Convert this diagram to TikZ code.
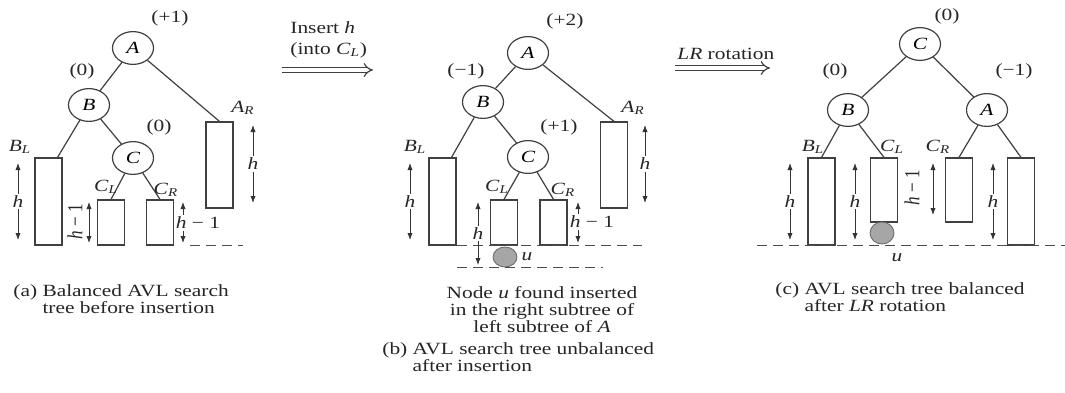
\documentclass[tikz,border=0pt]{standalone}
\usepackage{fontspec}
\setmainfont{Liberation Serif}
\usetikzlibrary{arrows.meta}
\usetikzlibrary{shapes.geometric}
\newcommand{\tsub}[2]{\textit{#1}\textsubscript{\textit{#2}}}

\begin{document}
\begin{tikzpicture}[x=0.5pt, y=-0.5pt,
  txt/.style={font=\fontsize{10.7}{10.6}\selectfont, text=black!85, yscale=0.8, inner sep=0pt},
  hl/.style={txt, fill=white, inner sep=1pt},
  vert/.style={ellipse, draw=black!75, line width=0.6pt, minimum width=20.5pt, minimum height=20.5pt,
    yscale=0.8, inner sep=0pt, font=\fontsize{10.7}{10.6}\selectfont\itshape},
  sub/.style={draw=black!75, line width=0.6pt, minimum width=13.5pt, inner sep=0pt},
  unode/.style={ellipse, draw=black!60, fill=black!35, minimum width=12pt, minimum height=10pt, inner sep=0pt},
  edge/.style={draw=black!75, line width=0.6pt},
  dim/.style={{Latex[length=3.5pt,width=2.6pt]}-{Latex[length=3.5pt,width=2.6pt]}, draw=black!80, line width=0.4pt},
  base/.style={dashed, dash pattern=on 5pt off 3pt, draw=black!70, line width=0.5pt},
  trans/.style={draw=black!75, line width=0.6pt, double=white, double distance=1.8pt, -{Implies}}]
  \path[use as bounding box, fill=white] (0,0) rectangle (1065,392);

  % (a) before insertion
  \node[vert] (Aa) at (133,48) {A};
  \node[vert] (Ba) at (89,105) {B};
  \node[vert] (Ca) at (133,158) {C};
  \node[sub, minimum height=43.5pt] (BLa) at (48.5,201.5) {};
  \node[sub, minimum height=22.5pt] (CLa) at (111,222.5) {};
  \node[sub, minimum height=22.5pt] (CRa) at (160,222.5) {};
  \node[sub, minimum height=43pt] (ARa) at (219.5,165) {};
  \draw[edge] (Aa) -- (Ba);
  \draw[edge] (Aa) -- (ARa.north);
  \draw[edge] (Ba) -- ([xshift=4.5pt]BLa.north);
  \draw[edge] (Ba) -- (Ca);
  \draw[edge] (Ca) -- (CLa.north);
  \draw[edge] (Ca) -- (CRa.north);
  \node[txt] (balAa) at (170,18) {(+1)};
  \node[txt] (balBa) at (82,71) {(0)};
  \node[txt] (balCa) at (159,127) {(0)};
  \node[txt] (nBLa) at (20,147) {\tsub{B}{L}};
  \node[txt] (nCLa) at (106,187) {\tsub{C}{L}};
  \node[txt] (nCRa) at (166,190) {\tsub{C}{R}};
  \node[txt] (nARa) at (243,108) {\tsub{A}{R}};
  \draw[dim] (18,163) -- node[hl] {\textit{h}} (18,240);
  \draw[dim] (253,125) -- node[hl] {\textit{h}} (253,203);
  \draw[dim] (89,202) -- (89,243);
  \node[txt, rotate=90] (hma) at (75,222) {\textit{h} − 1};
  \draw[dim] (183,202) -- (183,243);
  \node[hl] (hra) at (198,223) {\textit{h} − 1};
  \draw[base] (190,245) -- (243,245);
  \node[txt, anchor=north west, align=left] (capa) at (13,284)
    {(a) Balanced AVL search\\\phantom{(a) }tree before insertion};

  % step arrows
  \coordinate (s1) at (282,70);
  \coordinate (e1) at (373,70);
  \draw[trans] (s1) -- (e1);
  \node[txt, anchor=west] (ins1) at (290,28) {Insert \textit{h}};
  \node[txt, anchor=west] (ins2) at (290,50) {(into \tsub{C}{L})};
  \coordinate (s2) at (675,68);
  \coordinate (e2) at (770,68);
  \draw[trans] (s2) -- (e2);
  \node[txt, anchor=west] (rot) at (677,54) {\textit{LR} rotation};

  % (b) after insertion
  \node[vert] (Ab) at (528,53) {A};
  \node[vert] (Bb) at (483,102) {B};
  \node[vert] (Cb) at (528,157) {C};
  \node[sub, minimum height=43.5pt] (BLb) at (442.5,201.5) {};
  \node[sub, minimum height=22.5pt] (CLb) at (504,222.5) {};
  \node[sub, minimum height=22.5pt] (CRb) at (553.5,222.5) {};
  \node[sub, minimum height=43pt] (ARb) at (614,165) {};
  \node[unode] (ub) at (505,257) {};
  \draw[edge] (Ab) -- (Bb);
  \draw[edge] (Ab) -- (ARb.north);
  \draw[edge] (Bb) -- ([xshift=4.5pt]BLb.north);
  \draw[edge] (Bb) -- (Cb);
  \draw[edge] (Cb) -- (CLb.north);
  \draw[edge] (Cb) -- (CRb.north);
  \node[txt] (balAb) at (565,21) {(+2)};
  \node[txt] (balBb) at (466,71) {(−1)};
  \node[txt] (balCb) at (559,127) {(+1)};
  \node[txt] (nBLb) at (415,147) {\tsub{B}{L}};
  \node[txt] (nCLb) at (497,187) {\tsub{C}{L}};
  \node[txt] (nCRb) at (563,190) {\tsub{C}{R}};
  \node[txt] (nARb) at (633,108) {\tsub{A}{R}};
  \node[txt] (nub) at (527,257) {\textit{u}};
  \draw[base] (457,245) -- (642,245);
  \draw[base] (457,267) -- (603,267);
  \draw[dim] (410,163) -- node[hl] {\textit{h}} (410,240);
  \draw[dim] (645,125) -- node[hl] {\textit{h}} (645,203);
  \draw[dim] (478,202) -- node[hl] {\textit{h}} (478,265);
  \draw[dim] (578,202) -- (578,243);
  \node[hl] (hrb) at (592,222) {\textit{h} − 1};
  \node[txt, align=center] (noteb) at (542,310)
    {Node \textit{u} found inserted\\in the right subtree of\\left subtree of \textit{A}};
  \node[txt, anchor=north west, align=left] (capb) at (382,342)
    {(b) AVL search tree unbalanced\\\phantom{(b) }after insertion};

  % (c) after LR rotation
  \node[vert] (Cc) at (920,44) {C};
  \node[vert] (Bc) at (848,110) {B};
  \node[vert] (Ac) at (987,110) {A};
  \node[sub, minimum height=43.5pt] (BLc) at (821.5,201.5) {};
  \node[sub, minimum height=32pt] (CLc) at (884,190) {};
  \node[sub, minimum height=32pt] (CRc) at (959,190) {};
  \node[sub, minimum height=43.5pt] (ARc) at (1021,201.5) {};
  \draw[base] (757,245) -- (1065,245);
  \node[unode, minimum height=11pt] (uc) at (882,233) {};
  \draw[edge] (Cc) -- (Bc);
  \draw[edge] (Cc) -- (Ac);
  \draw[edge] (Bc) -- (BLc.north);
  \draw[edge] (Bc) -- (CLc.north);
  \draw[edge] (Ac) -- (CRc.north);
  \draw[edge] (Ac) -- (ARc.north);
  \node[txt] (balCc) at (947,16) {(0)};
  \node[txt] (balBc) at (835,71) {(0)};
  \node[txt] (balAc) at (1014,71) {(−1)};
  \node[txt] (nBLc) at (813,147) {\tsub{B}{L}};
  \node[txt] (nCLc) at (892,147) {\tsub{C}{L}};
  \node[txt] (nCRc) at (938,147) {\tsub{C}{R}};
  \node[txt] (nuc) at (897,258) {\textit{u}};
  \draw[dim] (790,163) -- node[hl] {\textit{h}} (790,240);
  \draw[dim] (855,163) -- node[hl] {\textit{h}} (855,240);
  \draw[dim] (933,163) -- (933,215);
  \node[txt, rotate=90] (hmc) at (912,188) {\textit{h} − 1};
  \draw[dim] (993,163) -- node[hl] {\textit{h}} (993,240);
  \node[txt, anchor=north west, align=left] (capc) at (775,282)
    {(c) AVL search tree balanced\\\phantom{(c) }after \textit{LR} rotation};
\end{tikzpicture}
\end{document}
